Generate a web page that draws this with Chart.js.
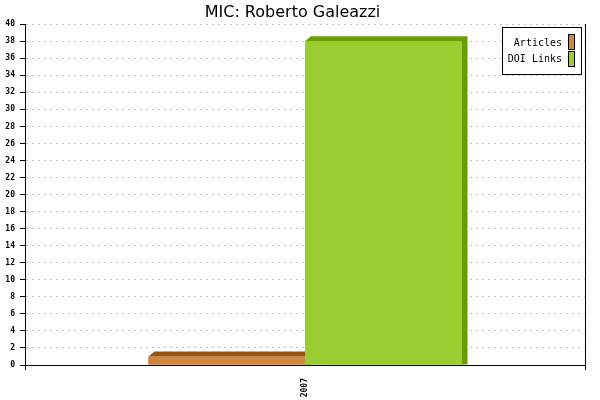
<!DOCTYPE html>
<html>
<head>
<meta charset="utf-8">
<script src="https://cdn.jsdelivr.net/npm/chart.js@4/dist/chart.umd.min.js"></script>
<style>
html,body{margin:0;padding:0;background:#fff;}
#wrap{width:600px;height:400px;}
</style>
</head>
<body>
<div id="wrap"><canvas id="c" width="600" height="400"></canvas></div>
<script>
const chartTitle = 'MIC: Roberto Galeazzi';
const categories = ['2007'];
const seriesNames = ['Articles', 'DOI Links'];
const articles = [1];
const doiLinks = [38];
const yMin = 0, yMax = 40, yStep = 2;

const faceColors = ['#cd853f', '#9acd32'];
const sideColors = ['#9a5212', '#6a9e00'];
const DX = 6, DY = 5;

// Draws each dataset's 3D depth and then its face, in dataset order,
// so later series overlap earlier ones as in the reference.
const depthPlugin = {
  id: 'depth3d',
  afterDatasetsDraw(chart) {
    const ctx = chart.ctx;
    chart.data.datasets.forEach((ds, i) => {
      const meta = chart.getDatasetMeta(i);
      meta.data.forEach(bar => {
        const p = bar.getProps(['x', 'y', 'base', 'width'], true);
        const xl = p.x - p.width / 2, xr = p.x + p.width / 2;
        const yt = p.y, yb = p.base;
        ctx.save();
        ctx.fillStyle = sideColors[i];
        ctx.beginPath();
        ctx.moveTo(xl, yt);
        ctx.lineTo(xl + DX, yt - DY);
        ctx.lineTo(xr + DX, yt - DY);
        ctx.lineTo(xr + DX, yb);
        ctx.lineTo(xr, yb);
        ctx.lineTo(xr, yt);
        ctx.closePath();
        ctx.fill();
        ctx.restore();
        bar.draw(ctx);
      });
    });
  }
};

const legendPlugin = {
  id: 'boxLegend',
  afterDraw(chart) {
    const ctx = chart.ctx;
    ctx.save();
    ctx.fillStyle = '#fff';
    ctx.fillRect(502.5, 27.5, 79, 47);
    ctx.strokeStyle = '#000';
    ctx.lineWidth = 1;
    ctx.strokeRect(502.5, 27.5, 79, 47);
    ctx.font = '10px "DejaVu Sans Mono"';
    ctx.textAlign = 'right';
    ctx.textBaseline = 'middle';
    chart.data.datasets.forEach((ds, i) => {
      const ty = 43 + i * 16;
      ctx.fillStyle = '#000';
      ctx.fillText(ds.label, 562, ty);
      const sy = 34.5 + i * 17;
      ctx.fillStyle = ds.backgroundColor;
      ctx.fillRect(568.5, sy, 6, 15);
      ctx.strokeStyle = '#000';
      ctx.strokeRect(568.5, sy, 6, 15);
    });
    ctx.restore();
  }
};

new Chart(document.getElementById('c'), {
  type: 'bar',
  data: {
    labels: categories,
    datasets: [
      { label: seriesNames[0], data: articles, backgroundColor: faceColors[0], borderWidth: 0,
        categoryPercentage: 0.559, barPercentage: 1 },
      { label: seriesNames[1], data: doiLinks, backgroundColor: faceColors[1], borderWidth: 0,
        categoryPercentage: 0.559, barPercentage: 1 }
    ]
  },
  options: {
    responsive: false,
    devicePixelRatio: 1,
    animation: false,
    layout: { padding: { left: 0, right: 15, top: 0, bottom: 0 } },
    plugins: {
      legend: { display: false },
      tooltip: { enabled: false },
      title: {
        display: true,
        text: chartTitle,
        color: '#000',
        font: { family: 'DejaVu Sans', size: 16, weight: 'normal', lineHeight: 1.2 },
        padding: { top: 3, bottom: 2 }
      }
    },
    scales: {
      x: {
        offset: true,
        grid: { display: true, offset: true, color: '#000', lineWidth: 1, tickLength: 5, tickColor: '#000' },
        border: { display: true, color: '#000', width: 1 },
        ticks: {
          color: '#000', minRotation: 90, maxRotation: 90, padding: 8,
          font: { family: 'DejaVu Sans Mono', size: 8, weight: 'bold' }
        },
        afterFit(scale) { scale.height = 35; }
      },
      y: {
        min: yMin, max: yMax,
        grid: { color: '#c0c0c0', lineWidth: 1, tickLength: 5, tickColor: '#000' },
        border: { display: true, color: '#000', width: 1, dash: [2, 4] },
        ticks: {
          stepSize: yStep, color: '#000', padding: 5,
          font: { family: 'DejaVu Sans Mono', size: 8, weight: 'bold' }
        },
        afterFit(scale) { scale.width = 25; }
      }
    }
  },
  plugins: [depthPlugin, legendPlugin]
});
</script>
</body>
</html>
